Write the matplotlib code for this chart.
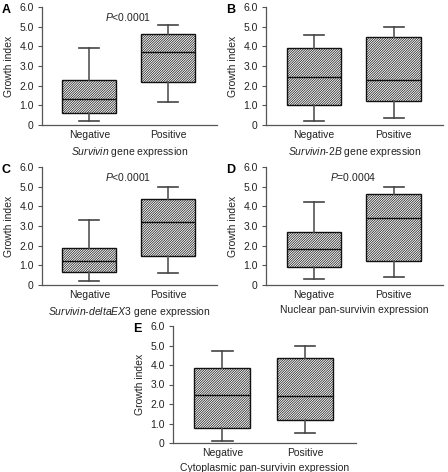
import matplotlib
matplotlib.use("Agg")
import matplotlib.pyplot as plt
import numpy as np

plt.rcParams['font.family'] = ['Liberation Sans', 'DejaVu Sans']
plt.rcParams['mathtext.fontset'] = 'custom'
plt.rcParams['mathtext.it'] = 'Liberation Sans:italic'
plt.rcParams['mathtext.rm'] = 'Liberation Sans'
plt.rcParams['hatch.linewidth'] = 0.5
plt.rcParams['hatch.color'] = '#222222'

categories = ["Negative", "Positive"]
# stats per group: [whisker low, Q1, median, Q3, whisker high]
A_stats = [[0.2, 0.6, 1.3, 2.3, 3.9], [1.15, 2.2, 3.7, 4.65, 5.1]]
B_stats = [[0.2, 1.0, 2.45, 3.9, 4.6], [0.35, 1.2, 2.3, 4.45, 5.0]]
C_stats = [[0.2, 0.65, 1.2, 1.9, 3.3], [0.6, 1.45, 3.2, 4.35, 5.0]]
D_stats = [[0.3, 0.9, 1.85, 2.7, 4.2], [0.4, 1.2, 3.4, 4.65, 5.0]]
E_stats = [[0.1, 0.75, 2.45, 3.85, 4.7], [0.5, 1.2, 2.4, 4.35, 5.0]]

letters = ["A", "B", "C", "D", "E"]
xlabels = [r"$\it{Survivin}$ gene expression",
           r"$\it{Survivin}$-$\it{2B}$ gene expression",
           r"$\it{Survivin}$-$\it{deltaEX3}$ gene expression",
           "Nuclear pan-survivin expression",
           "Cytoplasmic pan-survivin expression"]
pvalues = [r"$\it{P}$<0.0001", None, r"$\it{P}$<0.0001", r"$\it{P}$=0.0004", None]
yticks = [0, 1, 2, 3, 4, 5, 6]
yticklabels = ["0", "1.0", "2.0", "3.0", "4.0", "5.0", "6.0"]

W, H = 448, 472
fig = plt.figure(figsize=(W / 100, H / 100), dpi=100)

# pixel boxes: left, top, right, bottom
rects = [(42, 7, 217, 125), (266, 7, 443, 125),
         (42, 167, 217, 285), (266, 167, 443, 285),
         (173, 326, 356, 443)]
all_stats = [A_stats, B_stats, C_stats, D_stats, E_stats]

for i, (stats, rect) in enumerate(zip(all_stats, rects)):
    l, t, r, b = rect
    ax = fig.add_axes([l / W, 1 - b / H, (r - l) / W, (b - t) / H])
    bxp = []
    for cat, s in zip(categories, stats):
        bxp.append(dict(label=cat, whislo=s[0], q1=s[1], med=s[2], q3=s[3], whishi=s[4], fliers=[]))
    ax.bxp(bxp, positions=[1, 2], widths=0.68, patch_artist=True, showfliers=False,
           boxprops=dict(facecolor='white', edgecolor='#111111', linewidth=1.0, hatch='/' * 14),
           medianprops=dict(color='#111111', linewidth=1.0),
           whiskerprops=dict(color='#555555', linewidth=1.2),
           capprops=dict(color='#444444', linewidth=1.2),
           capwidths=0.25)
    ax.set_xlim(0.4, 2.62)
    ax.set_ylim(0, 6)
    ax.set_yticks(yticks)
    ax.set_yticklabels(yticklabels, fontsize=7.5, color='#222222')
    ax.set_xticks([1, 2])
    ax.set_xticklabels(categories, fontsize=7.5, color='#222222')
    ax.tick_params(axis='x', length=0, pad=3.5)
    ax.tick_params(axis='y', length=3, width=0.8, color='#555555', pad=3)
    for sp in ['top', 'right']:
        ax.spines[sp].set_visible(False)
    for sp in ['left', 'bottom']:
        ax.spines[sp].set_color('#555555')
        ax.spines[sp].set_linewidth(0.9)
    ax.set_ylabel("Growth index", fontsize=7.5, color='#222222', labelpad=4)
    ax.set_xlabel(xlabels[i], fontsize=7.5, color='#222222', labelpad=3.5)
    if pvalues[i]:
        ax.text(0.49, 0.97, pvalues[i], transform=ax.transAxes, ha='center', va='top',
                fontsize=7.5, color='#222222')
    fig.text((l - 40) / W, 1 - (t + 3) / H, letters[i], fontsize=9,
             fontweight='bold', ha='left', va='center')

fig.savefig("out.png", dpi=100)
